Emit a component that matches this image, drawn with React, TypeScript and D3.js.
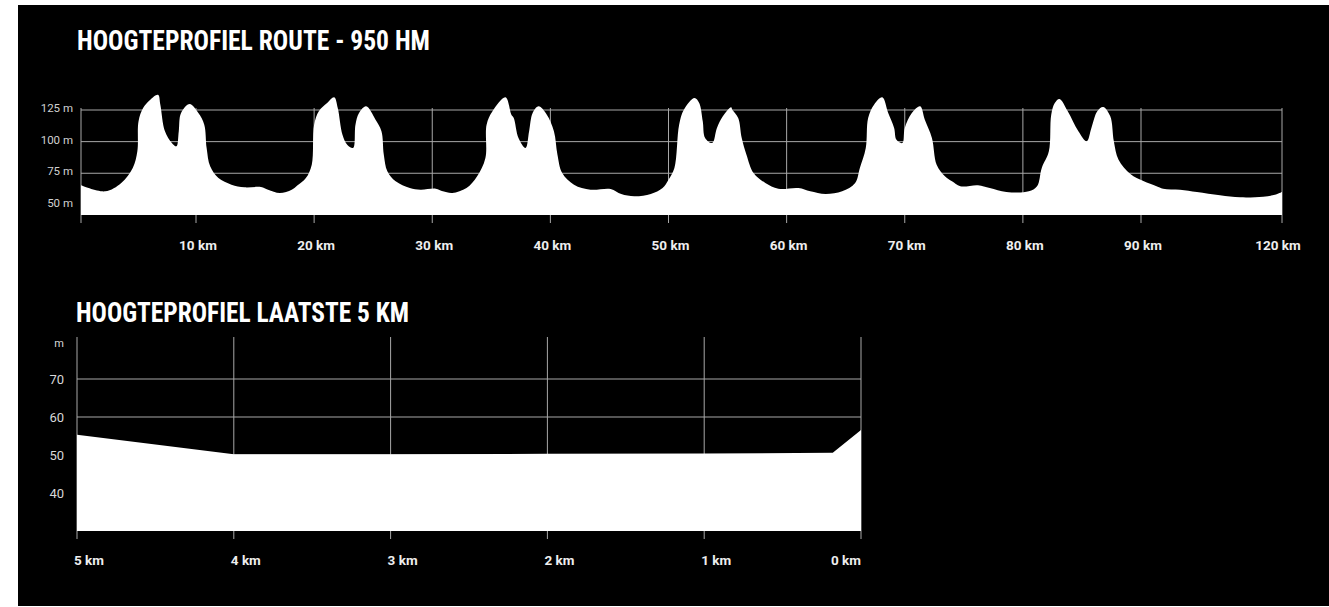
import React from "react";
import * as d3 from "d3";

// route profile, km along the route and height in metres
const routeKm = [
  0, 2.1, 3.5, 4.5, 4.9, 5.0, 5.4, 6.0, 6.7, 6.9, 7.3, 7.9, 8.3, 8.5, 8.7, 9.45,
  10.2, 10.7, 10.9, 11.2, 11.9, 13.0, 14.1, 15.5, 16.1, 17.1, 18.1, 18.6,
  19.3, 19.8, 20.0, 20.4, 21.1, 21.7, 22.0, 22.4, 22.8, 23.3, 23.5, 23.8, 24.4,
  25.2, 25.7, 25.9, 26.2, 26.9, 28.1, 29.0, 30.3, 30.9, 31.7, 32.9, 33.8, 34.5,
  34.6, 35.1, 36.2, 36.7,
  36.9, 37.3, 37.9, 38.2, 38.5, 39.0, 39.7, 40.3, 40.6, 41.0, 42.0, 43.4, 45.1,
  46.0, 47.1, 48.5, 49.5, 50.0, 50.5, 50.9, 51.3, 52.2, 52.6, 52.9, 53.1, 53.7,
  54.1, 54.6, 55.3,
  55.4, 55.9, 56.2, 56.6, 57.2, 58.2, 59.3, 61.0, 62.0, 63.3, 64.7, 65.8, 66.2,
  66.7, 66.9, 67.4, 68.1, 68.6, 69.1, 69.3, 69.8, 70.0, 70.6, 71.3, 71.7, 72.3,
  72.7, 73.4, 74.0,
  74.7, 76.2, 77.2, 78.6, 80.5, 81.2, 81.6, 82.2, 82.4, 82.7, 83.1, 83.8, 84.7,
  85.4, 85.8, 86.3, 86.8, 87.4, 87.7, 88.1, 89.1, 90.5, 93.3, 94.7, 98.3, 101.9,
  106.8, 111.1, 116.0, 118.5, 120.0,
];
const routeElev = [
  65.5, 60.7, 67.3, 79.2, 92.3, 116, 126.6, 133, 137, 129.2, 108.2, 99, 96.3, 108,
  122.6, 129.7,
  122.6, 113.4, 95, 80.5, 71.2, 66, 63.9, 64.1, 62, 59.4, 62, 65.5,
  71.2, 81.8, 113.4, 124, 130.5, 135, 126.6, 105.5, 97.6, 95, 113.4, 122.6, 127.9,
  117.3, 108.2, 89.7, 76.6, 68.6, 63.3, 62, 62.8, 60.7, 59.4, 63.3, 72.6, 87,
  113.4, 124, 135, 121.3,
  118.7, 102.9, 95, 108.2, 122.6, 127.9, 121.3, 108.2, 89.7, 75.2, 66, 62, 62.6,
  58.6, 56.8, 58.6, 63.3, 69.9, 79.2, 113.4, 125.2, 134.5, 130.5, 116.1, 102.9,
  98.9, 110.8, 120, 127.1,
  125.2, 118.7, 102.9, 89.7, 75.2, 67.3, 62.8, 63.3, 60.7, 58.6, 60.7, 67.3, 79.2,
  95, 118.7, 129.2, 135, 122.6, 110.8, 101.5, 98.9, 110.8, 122.6, 127.9, 117.3,
  102.9, 81.8, 72.6, 68.6,
  64.7, 65.5, 63.3, 60.2, 60.7, 64.7, 79.2, 92.3, 121.3, 130.5, 133.7, 124, 108.2,
  100.3, 110.8, 124, 127.4, 120, 100.3, 85.7, 74.4, 68.8, 64.7, 62.8, 62, 60.2,
  57.6, 56, 56.5, 58, 60.2,
];
const routeTicks = [10, 20, 30, 40, 50, 60, 70, 80, 90, 120];
const routeElevTicks = [50, 75, 100, 125];

// last 5 km, km to go and height in metres
const lastKm = [5, 4, 3, 2, 1, 0.18, 0];
const lastElev = [55.3, 50.2, 50.2, 50.3, 50.4, 50.6, 56.6];
const lastTicks = [5, 4, 3, 2, 1, 0];
const lastElevTicks = [40, 50, 60, 70, 80];

const W = 1329;
const H = 607;
const grid = "#a8a8a8";
const condensed = "'Liberation Sans Narrow', 'Roboto Condensed', Roboto, sans-serif";

export default function App() {
  // top chart
  const x1 = d3.scaleLinear().domain([0, 10, 90, 120]).range([81, 196, 1141, 1282]);
  const y1 = d3.scaleLinear().domain([42, 125]).range([215, 110]);
  const area1 = d3
    .area<number>()
    .x((_, i) => x1(routeKm[i]))
    .y0(y1(42))
    .y1((d) => y1(d))
    .curve(d3.curveCatmullRom.alpha(0.5));

  // bottom chart
  const x2 = d3.scaleLinear().domain([5, 0]).range([77, 861]);
  const y2 = d3.scaleLinear().domain([30, 80]).range([531, 341]);
  const area2 = d3
    .area<number>()
    .x((_, i) => x2(lastKm[i]))
    .y0(y2(30))
    .y1((d) => y2(d));

  return (
    <svg width={W} height={H} style={{ position: "absolute", left: 0, top: 0 }}>
      <rect width={W} height={H} fill="#fff" />
      <rect x={18} y={5} width={W - 18} height={601} fill="#000" />

      {/* route */}
      <text x={77} y={50} fill="#fff" fontFamily={condensed} fontWeight={700} fontSize={27}
        textLength={353} lengthAdjust="spacingAndGlyphs">
        HOOGTEPROFIEL ROUTE - 950 HM
      </text>
      {routeElevTicks.map((t) => (
        <g key={t}>
          <line x1={x1(0)} x2={x1(120)} y1={y1(t)} y2={y1(t)} stroke={grid} strokeWidth={1} />
          <text x={73} y={y1(t) - 2} dy="0.35em" textAnchor="end" fill="#d0d0d0"
            fontFamily="Roboto, sans-serif" fontSize={11.5}>
            {t} m
          </text>
        </g>
      ))}
      {[0, ...routeTicks].map((t) => (
        <line key={t} x1={x1(t)} x2={x1(t)} y1={108} y2={223} stroke={grid} strokeWidth={1} />
      ))}
      <path d={area1(routeElev) ?? ""} fill="#fff" />
      {routeTicks.map((t) => (
        <text key={t} x={x1(t) + (t === 120 ? -4 : 2)} y={250} textAnchor="middle" fill="#eee"
          fontFamily="Roboto, sans-serif" fontWeight={700} fontSize={13.5}>
          {t} km
        </text>
      ))}

      {/* last 5 km */}
      <text x={76} y={322} fill="#fff" fontFamily={condensed} fontWeight={700} fontSize={27}
        textLength={333} lengthAdjust="spacingAndGlyphs">
        HOOGTEPROFIEL LAATSTE 5 KM
      </text>
      {lastElevTicks.map((t) => (
        <g key={t}>
          {t < 80 && (
            <line x1={x2(5)} x2={x2(0)} y1={y2(t)} y2={y2(t)} stroke={grid} strokeWidth={1} />
          )}
          <text x={64} y={y2(t) + (t === 80 ? 2 : 0)} dy="0.35em" textAnchor="end" fill="#d8d8d8"
            fontFamily="Roboto, sans-serif" fontSize={t === 80 ? 11 : 13}>
            {t === 80 ? "m" : t}
          </text>
        </g>
      ))}
      {lastTicks.map((t) => (
        <line key={t} x1={x2(t)} x2={x2(t)} y1={337} y2={539} stroke={grid} strokeWidth={1} />
      ))}
      <path d={area2(lastElev) ?? ""} fill="#fff" />
      {lastTicks.map((t) => (
        <text key={t} x={t === 0 ? x2(t) : x2(t) - 3} y={565} textAnchor={t === 0 ? "end" : "start"}
          fill="#eee" fontFamily="Roboto, sans-serif" fontWeight={700} fontSize={13.5}>
          {t} km
        </text>
      ))}
    </svg>
  );
}
